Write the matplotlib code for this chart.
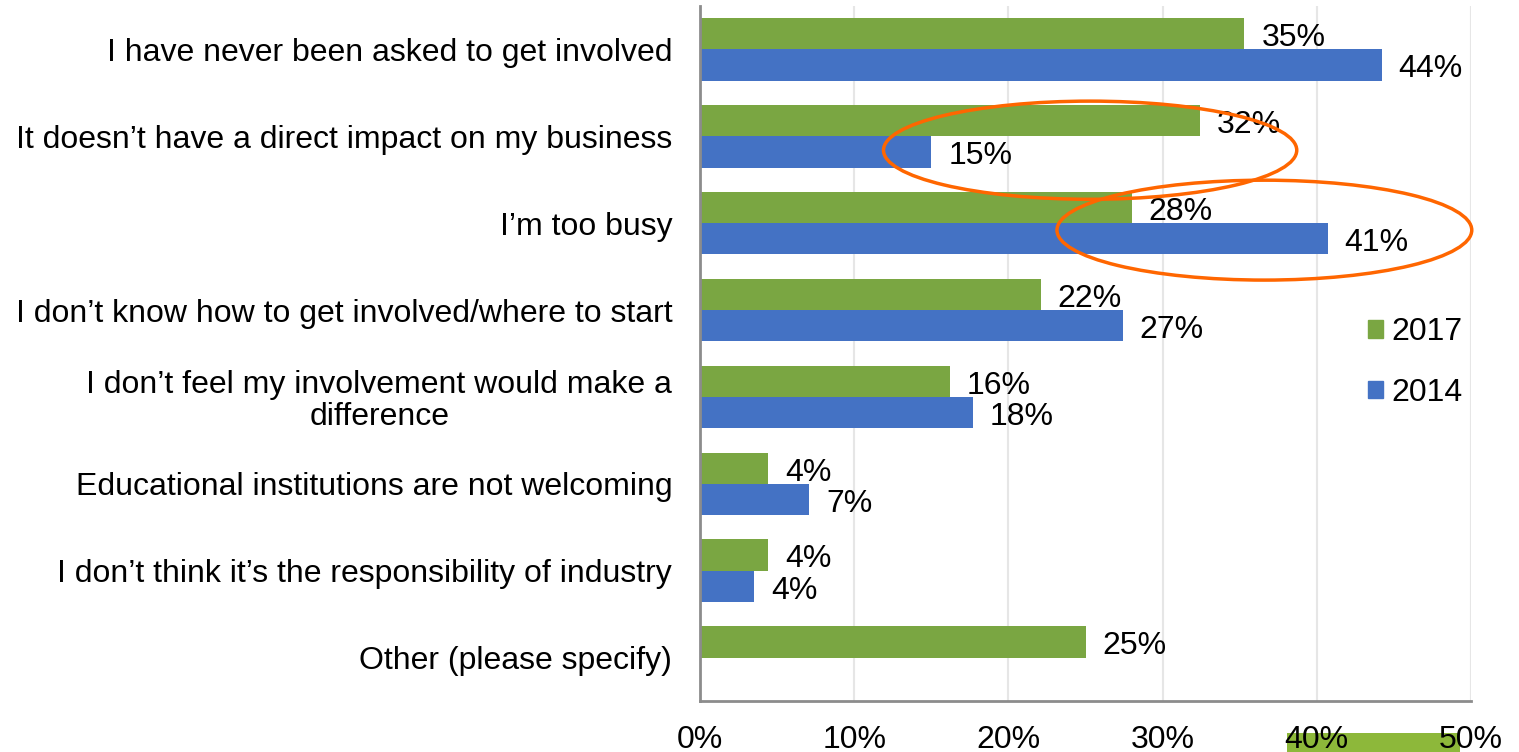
import numpy as np
import matplotlib.pyplot as plt
from matplotlib.patches import Ellipse, Patch, Rectangle

plt.rcParams['font.family'] = ['Liberation Sans', 'DejaVu Sans']

# survey answers, top to bottom
reasons = [
    "I have never been asked to get involved",
    "It doesn\u2019t have a direct impact on my business",
    "I\u2019m too busy",
    "I don\u2019t know how to get involved/where to start",
    "I don\u2019t feel my involvement would make a\ndifference",
    "Educational institutions are not welcoming",
    "I don\u2019t think it\u2019s the responsibility of industry",
    "Other (please specify)",
]
pct_2017 = [35.3, 32.4, 28.0, 22.1, 16.2, 4.4, 4.4, 25.0]
pct_2014 = [44.2, 15.0, 40.7, 27.4, 17.7, 7.1, 3.5, np.nan]
xticks = [0, 10, 20, 30, 40, 50]

green = '#7AA642'
blue = '#4472C4'
fs = 23

fig = plt.figure(figsize=(15.19, 7.52), dpi=100)
ax = fig.add_axes([700 / 1519, 1 - 701 / 752, 771 / 1519, 695 / 752])

y = np.arange(len(reasons))
h = 0.36
ax.barh(y - h / 2, pct_2017, height=h, color=green, zorder=2)
ax.barh(y + h / 2, pct_2014, height=h, color=blue, zorder=2)

for yi, v in zip(y, pct_2017):
    ax.text(v + 1.1, yi - h / 2 + 0.05, f"{round(v)}%", va='center', ha='left', fontsize=fs)
for yi, v in zip(y, pct_2014):
    if not np.isnan(v):
        ax.text(v + 1.1, yi + h / 2 + 0.05, f"{round(v)}%", va='center', ha='left', fontsize=fs)

ax.set_xlim(0, 50)
ax.set_ylim(len(reasons) - 0.5, -0.5)
ax.set_xticks(xticks)
ax.set_xticklabels([f"{t}%" for t in xticks], fontsize=fs)
ax.set_yticks(y)
ax.set_yticklabels(reasons, fontsize=fs, multialignment='center', linespacing=1.05)
ax.tick_params(axis='x', length=0, pad=17)
ax.tick_params(axis='y', length=0, pad=20)
ax.grid(axis='x', color='#E6E6E6', linewidth=1.5, zorder=0)
ax.set_axisbelow(True)
for s in ['top', 'right']:
    ax.spines[s].set_visible(False)
for s in ['left', 'bottom']:
    ax.spines[s].set_color('#8C8C8C')
    ax.spines[s].set_linewidth(2)

handles = [Patch(color=green, label='2017'), Patch(color=blue, label='2014')]
ax.legend(handles=handles, loc='upper left', bbox_to_anchor=(0.867, 0.552), frameon=False,
          fontsize=fs, borderpad=0, borderaxespad=0, handlelength=0.47, handleheight=0.47,
          handletextpad=0.25, labelspacing=0.95)

# highlight rings
ring_kw = dict(fill=False, edgecolor='#FF6600', linewidth=2.5, clip_on=False, zorder=5)
ax.add_patch(Ellipse((25.3, 1.16), 26.8, 1.13, **ring_kw))
ax.add_patch(Ellipse((36.6, 2.08), 26.9, 1.15, **ring_kw))

# green marker strip behind the last tick labels
fig.patches.append(Rectangle((1287 / 1519, 0), 173 / 1519, 19 / 752, transform=fig.transFigure,
                             facecolor='#8DB83A', edgecolor='none', zorder=-1))

fig.savefig('out.png', dpi=100)
